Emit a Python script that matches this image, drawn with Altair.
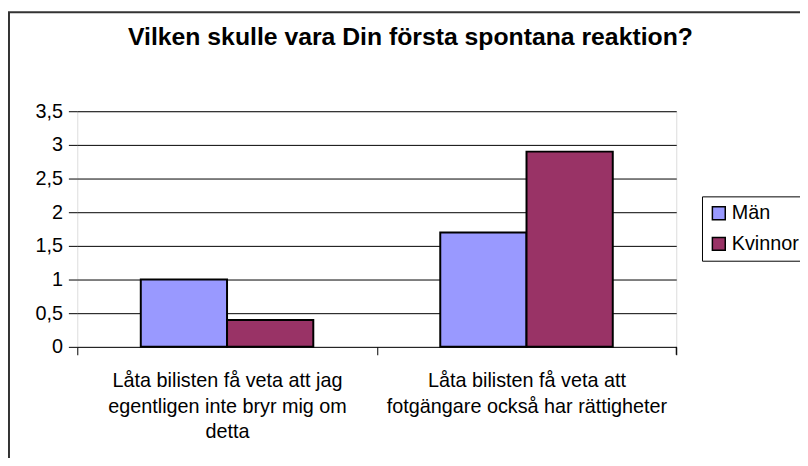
import altair as alt
import pandas as pd

categories = [
    "Låta bilisten få veta att jag\negentligen inte bryr mig om\ndetta",
    "Låta bilisten få veta att\nfotgängare också har rättigheter",
]
series = ["Män", "Kvinnor"]
man_values = [1.0, 1.7]
kvinnor_values = [0.4, 2.9]
colors = ["#9999FF", "#993366"]
y_ticks = [0, 0.5, 1, 1.5, 2, 2.5, 3, 3.5]

rows = []
for i, c in enumerate(categories):
    rows.append({"kategori": c, "serie": series[0], "varde": man_values[i]})
    rows.append({"kategori": c, "serie": series[1], "varde": kvinnor_values[i]})
df = pd.DataFrame(rows)

FONT = "Liberation Sans"
W, H = 605, 238

bars = alt.Chart(df).mark_bar(stroke="black", strokeWidth=2).encode(
    x=alt.X(
        "kategori:N",
        sort=categories,
        scale=alt.Scale(paddingInner=0, paddingOuter=0),
        axis=alt.Axis(
            title=None,
            labelAngle=0,
            labelExpr="split(datum.label, '\\n')",
            labelFontSize=20,
            labelFont=FONT,
            labelColor="black",
            labelLineHeight=26,
            labelBaseline="top",
            labelPadding=16,
            labelLimit=600,
            tickColor="black",
            tickSize=8,
            tickBand="extent",
            domain=False,
            grid=False,
        ),
    ),
    xOffset=alt.XOffset(
        "serie:N", sort=series, scale=alt.Scale(paddingInner=0, paddingOuter=0.736)
    ),
    y=alt.Y(
        "varde:Q",
        scale=alt.Scale(domain=[0, 3.5], nice=False),
        axis=alt.Axis(
            title=None,
            values=y_ticks,
            format=",.1~f",
            labelExpr="replace(datum.label, '.', ',')",
            labelFontSize=20,
            labelFont=FONT,
            labelColor="black",
            labelPadding=6,
            tickColor="black",
            tickSize=9,
            domain=False,
            grid=True,
            gridColor="black",
            gridWidth=1,
        ),
    ),
    color=alt.Color(
        "serie:N",
        sort=series,
        scale=alt.Scale(domain=series, range=colors),
        legend=alt.Legend(
            title=None,
            orient="none",
            legendX=631,
            legendY=86,
            symbolType="square",
            symbolSize=169,
            symbolStrokeColor="black",
            symbolStrokeWidth=1.5,
            symbolOpacity=1,
            labelFontSize=20,
            labelFont=FONT,
            labelColor="black",
            labelOffset=3,
            labelLimit=300,
            rowPadding=11,
            padding=7,
            strokeColor="black",
            fillColor="white",
            cornerRadius=0,
        ),
    ),
)

frame = alt.Chart(pd.DataFrame({"a": [0]})).mark_rect(
    fill=None, stroke="#333333", strokeWidth=2
).encode(
    x=alt.value(-69), x2=alt.value(760), y=alt.value(-100), y2=alt.value(380)
)

end_tick = alt.Chart(pd.DataFrame({"a": [0]})).mark_rule(color="black").encode(
    x=alt.value(W), y=alt.value(H), y2=alt.value(H + 8)
)

chart = alt.layer(frame, bars, end_tick).properties(
    width=W,
    height=H,
    autosize=alt.AutoSizeParams(type="none"),
    padding={"left": 70, "top": 102, "right": 125, "bottom": 110},
    title=alt.TitleParams(
        "Vilken skulle vara Din första spontana reaktion?",
        font=FONT,
        fontSize=25,
        fontWeight="bold",
        color="black",
        anchor="middle",
        frame="group",
        baseline="alphabetic",
        dx=34,
        dy=59,
        offset=0,
    ),
).configure_view(
    fill="#C0C0C0", stroke="#808080", strokeWidth=2
).configure(background="white")

chart.save("out.html", embed_options={"renderer": "svg", "actions": False})
